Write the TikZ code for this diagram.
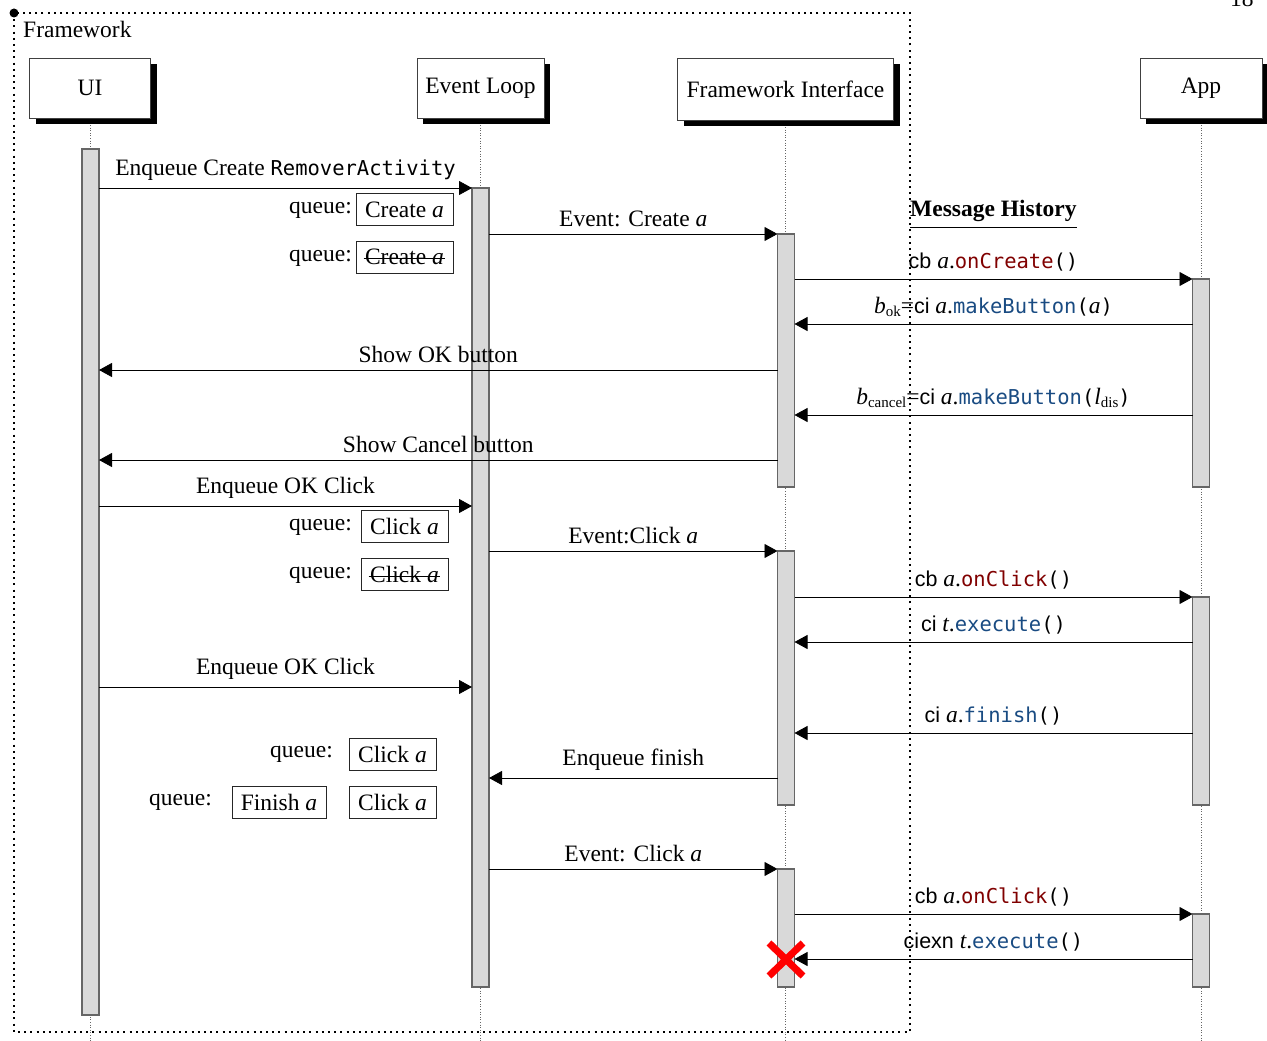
\documentclass[tikz,border=0pt]{standalone}
\usepackage{fontspec}
\setmainfont{Liberation Serif}
\setsansfont{Liberation Sans}
\setmonofont{DejaVu Sans Mono}
\usetikzlibrary{arrows.meta,calc,shadows}
\definecolor{cbred}{RGB}{128,0,0}
\definecolor{ciblue}{RGB}{25,75,130}
\definecolor{barfill}{gray}{0.85}
\newcommand{\mfont}{\fontsize{23.5}{28}\selectfont}
\newcommand{\ttm}[1]{{\fontsize{20.5}{24}\selectfont\ttfamily #1}}
\newcommand{\sfm}[1]{{\fontsize{21.5}{24}\selectfont\sffamily #1}}
\newcommand{\sbs}[1]{\raisebox{-0.3ex}{\fontsize{15}{15}\selectfont #1}}
\begin{document}
\begin{tikzpicture}[x=1pt,y=-1pt,
  every node/.style={font=\mfont},
  head/.style={draw=black!75, fill=white, line width=0.9pt, inner sep=0pt, outer sep=0pt,
    drop shadow={shadow xshift=6pt, shadow yshift=-6pt, fill=black, opacity=1}},
  bar/.style={draw=black!60, fill=barfill, line width=1.1pt, inner sep=0pt, outer sep=0pt, minimum width=17pt},
  life/.style={draw=black!60, dotted, line width=0.6pt},
  msg/.style={line width=0.8pt, -{Triangle[length=13pt,width=14pt]}},
  lbl/.style={above, inner sep=3pt, yshift=4pt},
  qbox/.style={draw=black!85, line width=0.8pt, inner sep=3pt, minimum height=32pt},
  qlbl/.style={anchor=base east, inner sep=0pt},
  strike/.style={line width=0.8pt},
  frm/.style={line width=2pt, dash pattern=on 2pt off 4.2pt}
]
\useasboundingbox (0,0) rectangle (1267,1041);

% heads
\node[head, minimum width=121pt, minimum height=60pt] (ui) at (90,88) {UI};
\node[head, minimum width=127pt, minimum height=60pt] (el) at (480.5,88) {Event Loop};
\node[head, minimum width=216pt, minimum height=62pt] (fi) at (785.5,89) {Framework Interface};
\node[head, minimum width=122pt, minimum height=60pt] (app) at (1201,88) {App};

% lifelines
\draw[life] (ui.south |- 0,125) -- (ui.south |- 0,1041);
\draw[life] (el.south |- 0,125) -- (el.south |- 0,1041);
\draw[life] (fi.south |- 0,127) -- (fi.south |- 0,1041);
\draw[life] (app.south |- 0,125) -- (app.south |- 0,1041);

% activation bars
\node[bar, minimum height=866pt] (uib) at (90.5,582) {};
\node[bar, minimum height=799pt] (elb) at (480.5,587.5) {};
\node[bar, minimum height=253pt] (fib1) at (786,360.5) {};
\node[bar, minimum height=254pt] (fib2) at (786,678) {};
\node[bar, minimum height=118pt] (fib3) at (786,928) {};
\node[bar, minimum height=208pt] (appb1) at (1201,383) {};
\node[bar, minimum height=208pt] (appb2) at (1201,701) {};
\node[bar, minimum height=73pt] (appb3) at (1201,950.5) {};

% messages
\draw[msg] (uib.east |- 0,188) -- node[lbl]{Enqueue Create \ttm{RemoverActivity}} (elb.west |- 0,188);
\draw[msg] (elb.east |- 0,234) -- node[lbl]{Event: Create \textit{a}} (fib1.west |- 0,234);
\draw[msg] (fib1.east |- 0,279) -- node[lbl]{\sfm{cb} \textit{a}.\ttm{\textcolor{cbred}{onCreate}()}} (appb1.west |- 0,279);
\draw[msg] (appb1.west |- 0,324) -- node[lbl]{\textit{b}\sbs{ok}=\sfm{ci} \textit{a}.\ttm{\textcolor{ciblue}{makeButton}(}\textit{a}\ttm{)}} (fib1.east |- 0,324);
\draw[msg] (fib1.west |- 0,370) -- node[lbl]{Show OK button} (uib.east |- 0,370);
\draw[msg] (appb1.west |- 0,415) -- node[lbl]{\textit{b}\sbs{cancel}=\sfm{ci} \textit{a}.\ttm{\textcolor{ciblue}{makeButton}(}\textit{l}\sbs{dis}\ttm{)}} (fib1.east |- 0,415);
\draw[msg] (fib1.west |- 0,460) -- node[lbl]{Show Cancel button} (uib.east |- 0,460);
\draw[msg] (uib.east |- 0,506) -- node[lbl]{Enqueue OK Click} (elb.west |- 0,506);
\draw[msg] (elb.east |- 0,551) -- node[lbl]{Event:Click \textit{a}} (fib2.west |- 0,551);
\draw[msg] (fib2.east |- 0,597) -- node[lbl]{\sfm{cb} \textit{a}.\ttm{\textcolor{cbred}{onClick}()}} (appb2.west |- 0,597);
\draw[msg] (appb2.west |- 0,642) -- node[lbl]{\sfm{ci} \textit{t}.\ttm{\textcolor{ciblue}{execute}()}} (fib2.east |- 0,642);
\draw[msg] (uib.east |- 0,687) -- node[lbl]{Enqueue OK Click} (elb.west |- 0,687);
\draw[msg] (appb2.west |- 0,733) -- node[lbl]{\sfm{ci} \textit{a}.\ttm{\textcolor{ciblue}{finish}()}} (fib2.east |- 0,733);
\draw[msg] (fib2.west |- 0,778) -- node[lbl]{Enqueue finish} (elb.east |- 0,778);
\draw[msg] (elb.east |- 0,869) -- node[lbl]{Event: Click \textit{a}} (fib3.west |- 0,869);
\draw[msg] (fib3.east |- 0,914) -- node[lbl]{\sfm{cb} \textit{a}.\ttm{\textcolor{cbred}{onClick}()}} (appb3.west |- 0,914);
\draw[msg] (appb3.west |- 0,959) -- node[lbl]{\sfm{ciexn} \textit{t}.\ttm{\textcolor{ciblue}{execute}()}} (fib3.east |- 0,959);

% queue states
\node[qlbl] (ql1) at (352,213) {queue:};
\node[qbox, minimum width=97pt] (q1) at (404.5,209.5) {Create \textit{a}};
\node[qlbl] (ql2) at (352,261) {queue:};
\node[qbox, minimum width=97pt] (q2) at (404.5,257) {Create \textit{a}};
\draw[strike] ($(q2.base west)+(8,-6)$) -- ($(q2.base east)+(-8,-6)$);
\node[qlbl] (ql3) at (352,530) {queue:};
\node[qbox, minimum width=87pt] (q3) at (404.5,526.5) {Click \textit{a}};
\node[qlbl] (ql4) at (352,578) {queue:};
\node[qbox, minimum width=87pt] (q4) at (404.5,574.5) {Click \textit{a}};
\draw[strike] ($(q4.base west)+(8,-6)$) -- ($(q4.base east)+(-8,-6)$);
\node[qlbl] (ql5) at (333,757) {queue:};
\node[qbox, minimum width=87pt] (q5) at (392.5,754) {Click \textit{a}};
\node[qlbl] (ql6) at (212,805) {queue:};
\node[qbox, minimum width=94pt] (q6) at (279,802) {Finish \textit{a}};
\node[qbox, minimum width=87pt] (q7) at (392.5,802) {Click \textit{a}};

% message history title
\node[anchor=base west, inner sep=0pt, font=\mfont\bfseries] (mh) at (910,216) {Message History};
\draw[line width=0.9pt] ($(mh.base west)+(0,11)$) -- ($(mh.base east)+(0,11)$);

% destruction mark
\draw[red, line width=7pt] (769,943) -- (803,976) (769,976) -- (803,943);

% framework frame
\draw[frm] (14,13) rectangle (910,1032);
\fill (14,13) circle (4.5);
\node[anchor=base west, inner sep=0pt] (fw) at (23,37.5) {Framework};

% page number
\node[anchor=base west, inner sep=0pt] (pg) at (1230,7) {18};
\end{tikzpicture}
\end{document}
